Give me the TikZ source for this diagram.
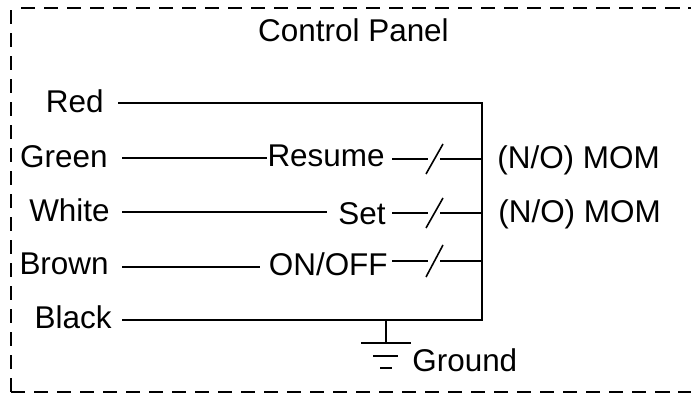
\documentclass[tikz,border=0pt]{standalone}
\usepackage{fontspec}
\setmainfont{Liberation Sans}

\tikzset{
    wire/.style={line width=1.15pt},
    frame/.style={line width=1.15pt,dash pattern=on 8pt off 5.1pt},
    lbl/.style={font=\fontsize{17.9}{20}\selectfont, inner sep=0pt},
    blade/.style={line width=0.9pt},
}

\begin{document}
\begin{tikzpicture}[x=0.02cm,y=-0.02cm]

    \useasboundingbox (0,0) rectangle (691,395);

    \draw[frame] (21,8) -- (691,8);
    \draw[frame] (11,392) -- (11,8);
    \draw[frame] (11,392) -- (691,392);

    \node[lbl,anchor=base] (title) at (353.5,42) {Control Panel};

    \node[lbl,anchor=base east] (red) at (104,113) {Red};
    \node[lbl,anchor=base east] (green) at (108,168) {Green};
    \node[lbl,anchor=base east] (white) at (110,222) {White};
    \node[lbl,anchor=base east] (brown) at (109,275) {Brown};
    \node[lbl,anchor=base east] (black) at (112,329) {Black};

    \node[lbl,anchor=base east] (resume) at (385,167) {Resume};
    \node[lbl,anchor=base east] (set) at (386,225) {Set};
    \node[lbl,anchor=base east] (onoff) at (388,276) {ON/OFF};

    \node[lbl,anchor=base west] (momA) at (497,169) {(N/O) MOM};
    \node[lbl,anchor=base west] (momB) at (498,223) {(N/O) MOM};
    \node[lbl,anchor=base west] (ground) at (412,372) {Ground};

    % wire ends next to the labels
    \coordinate (redend) at (118,103);
    \coordinate (blackend) at (122,320);
    \coordinate (busA) at (482,103);
    \coordinate (busB) at (482,320);
    \coordinate (gndA) at (386,320);
    \coordinate (gndB) at (386,343);

    \draw[wire] (redend) -- (busA) -- (busB) -- (blackend);
    \draw[wire] (gndA) -- (gndB);
    \draw[wire] (361,343) -- (411,343);
    \draw[wire] (373,356) -- (398,356);
    \draw[wire] (380,368) -- (392,368);

    \draw[wire] (122,158) -- (resume.west |- 122,158);
    \draw[wire] (122,212) -- (327,212);
    \draw[wire] (122,267) -- (260,267);

    \foreach \y/\h in {159/15,213/15,261/16} {
        \draw[wire] (392,\y) -- (428,\y);
        \draw[wire] (440,\y) -- (482,\y);
        \draw[blade] (426,\y+\h) -- (443,\y-\h);
    }

\end{tikzpicture}
\end{document}
